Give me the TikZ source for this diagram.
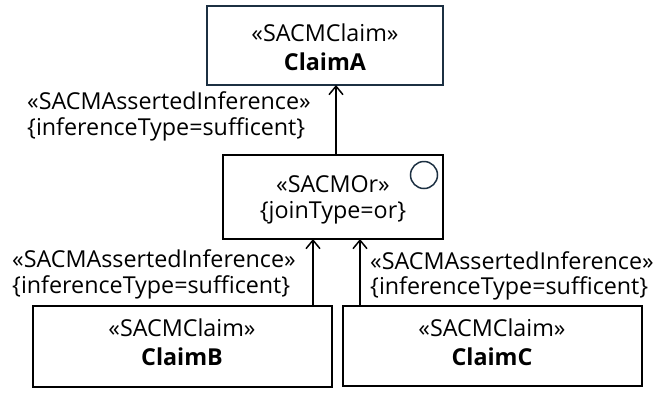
\documentclass[tikz,border=0pt]{standalone}
\usepackage{fontspec}
\setmainfont{Open Sans}
\usetikzlibrary{arrows.meta}
\definecolor{navy}{RGB}{28,48,66}
\tikzset{
  box/.style={draw, line width=1.8pt, anchor=north west, inner sep=0pt, outer sep=0pt},
  arr/.style={line width=1.5pt, -{Straight Barb[length=8.5pt,width=14pt,line width=1.5pt]}},
  lbl/.style={anchor=west, inner sep=0pt, font=\fontsize{23.3}{29}\selectfont},
  txt/.style={inner sep=0pt, font=\fontsize{23.3}{29}\selectfont}
}
\begin{document}
\begin{tikzpicture}[x=1pt,y=-1pt]
\useasboundingbox (0,0) rectangle (657,392);
% boxes
\node[box, draw=navy, minimum width=236pt, minimum height=79pt] (A) at (207,6) {};
\node[box, minimum width=220pt, minimum height=84pt] (OR) at (223,155) {};
\node[box, minimum width=299pt, minimum height=81pt] (B) at (33,306) {};
\node[box, minimum width=299pt, minimum height=80pt] (C) at (343,306) {};
\node[draw=navy, line width=1.5pt, circle, minimum size=27pt, inner sep=0pt] (orsym) at (424,175) {};
% box texts
\node[txt] (At1) at (325,33) {«SACMClaim»};
\node[txt] (At2) at (325,62) {\textbf{ClaimA}};
\node[txt] (Ot1) at (333,184) {«SACMOr»};
\node[txt] (Ot2) at (333,213) {\{joinType=or\}};
\node[txt] (Bt1) at (182,328) {«SACMClaim»};
\node[txt] (Bt2) at (182,357) {\textbf{ClaimB}};
\node[txt] (Ct1) at (492,328) {«SACMClaim»};
\node[txt] (Ct2) at (492,357) {\textbf{ClaimC}};
% connectors
\coordinate (xa) at (336,0);
\coordinate (xb) at (313,0);
\coordinate (xc) at (360,0);
\draw[arr] (OR.north -| xa) -- (A.south -| xa);
\draw[arr] (B.north -| xb) -- (OR.south -| xb);
\draw[arr] (C.north -| xc) -- (OR.south -| xc);
% connector labels
\node[lbl] (La1) at (27,101) {«SACMAssertedInference»};
\node[lbl] (La2) at (27,129) {\{inferenceType=sufficent\}};
\node[lbl] (Lb1) at (12,259) {«SACMAssertedInference»};
\node[lbl] (Lb2) at (12,287) {\{inferenceType=sufficent\}};
\node[lbl] (Lc1) at (370,261) {«SACMAssertedInference»};
\node[lbl] (Lc2) at (370,288) {\{inferenceType=sufficent\}};
\end{tikzpicture}
\end{document}
